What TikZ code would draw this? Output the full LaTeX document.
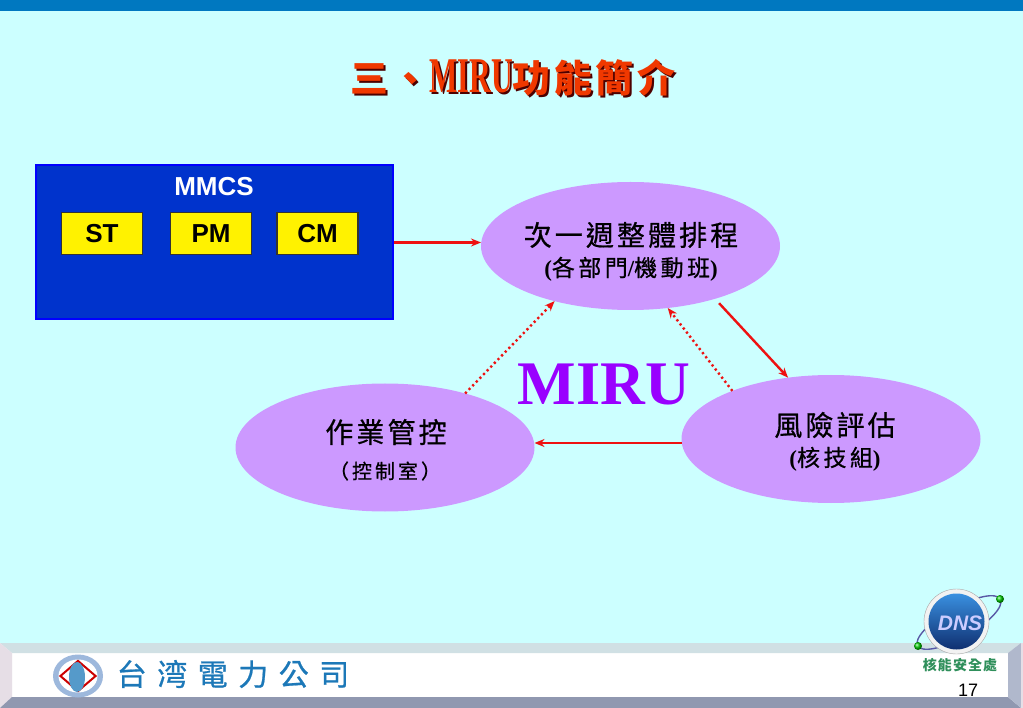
\documentclass[tikz,border=0pt]{standalone}
\usepackage{fontspec}
\usepackage{graphicx}
\setmainfont{Liberation Serif}
\setsansfont{Liberation Sans}
\newfontfamily\cjkfont{Noto Sans CJK TC}
\usetikzlibrary{shapes,arrows,arrows.meta,positioning,calc,fit}

\definecolor{bgcyan}{HTML}{CCFFFF}
\definecolor{topband}{HTML}{0078C0}
\definecolor{panelblue}{HTML}{0033CC}
\definecolor{lilac}{HTML}{CC99FF}
\definecolor{miru}{HTML}{9900FF}
\definecolor{titlered}{HTML}{F03800}
\definecolor{logoblue}{HTML}{1C78B8}
\definecolor{dnsgreen}{HTML}{2F8F5B}
\definecolor{bevelt}{HTML}{D0E0E4}
\definecolor{bevell}{HTML}{E6DEE6}
\definecolor{bevelb}{HTML}{9098B0}
\definecolor{bevelr}{HTML}{B0B8CC}
\definecolor{arrowred}{HTML}{EE1111}
\definecolor{ringblue}{HTML}{9DB8DC}
\definecolor{spheretop}{HTML}{3A90E0}
\definecolor{spherelow}{HTML}{0F2F70}

\newcommand{\fsz}[1]{\fontsize{#1}{#1}\selectfont}
\newcommand{\spaced}[1]{\cjkfont\addfontfeature{LetterSpace=#1}}
\newcommand{\heavy}[1]{\cjkfont\addfontfeature{LetterSpace=#1,FakeBold=0.7}}
\newcommand{\titletext}{{\spaced{9}\bfseries\fsz{38}三、}{\rmfamily\bfseries\fsz{50}\scalebox{.6}[1]{MIRU}}{\spaced{9}\bfseries\fsz{38}功能簡介}}

\begin{document}
\begin{tikzpicture}[
    x=1pt, y=-1pt,
    panel/.style={rectangle, draw=blue, line width=2pt, fill=panelblue, inner sep=0pt, minimum width=357pt, minimum height=154pt},
    subbox/.style={rectangle, draw=black!80, line width=1.2pt, fill=yellow, inner sep=0pt, minimum width=81pt, minimum height=42pt, font=\sffamily\bfseries\fsz{26}},
    task/.style={ellipse, fill=lilac, inner sep=0pt, outer sep=0pt, minimum width=299pt, minimum height=128pt},
    mainline/.style={inner sep=0pt, font=\heavy{11}\fsz{28}},
    subline/.style={inner sep=0pt, font=\heavy{15}\fsz{23}},
    arrow/.style={-{Stealth[length=10pt,width=8pt]}, draw=arrowred, line width=2.4pt},
    dotarrow/.style={arrow, dash pattern=on 2.2pt off 3pt}
]

% Background and top band
\fill[bgcyan] (0,0) rectangle (1023,708);
\fill[topband] (0,0) rectangle (1023,11);

% Footer bevel
\fill[white] (0,643) rectangle (1023,708);
\fill[bevelt] (0,643) -- (1021,643) -- (1008,653) -- (12,653) -- cycle;
\fill[bevell] (0,643) -- (12,653) -- (12,697) -- (0,708) -- cycle;
\fill[bevelb] (0,708) -- (12,697) -- (1008,697) -- (1021,708) -- cycle;
\fill[bevelr] (1021,643) -- (1008,653) -- (1008,697) -- (1021,708) -- cycle;
\fill[bevell] (1021,643) rectangle (1023,708);

% Title
\node[inner sep=0pt, text=black!70!red] (title_shadow) at (514.5,80) {\titletext};
\node[inner sep=0pt, text=titlered] (title) at (512.5,78) {\titletext};

% MMCS panel
\node[panel] (mmcs) at (214,242.5) {};
\node[inner sep=0pt, text=white, font=\sffamily\bfseries\fsz{26}] (mmcs_label) at (214,187) {MMCS};
\node[subbox] (st) at (102,233.5) {ST};
\node[subbox] (pm) at (211,233.5) {PM};
\node[subbox] (cm) at (317.5,233.5) {CM};

% Ellipses
\node[task] (next_week) at (630.5,246) {};
\node[task] (control) at (385,447.5) {};
\node[task] (risk) at (831,439) {};
\coordinate (bottom_link) at (608,443);

% Ellipse texts
\node[mainline] (next_week_a) at (631,235) {次一週整體排程};
\node[subline] (next_week_b) at (631,269) {{\rmfamily\bfseries(}各部門{\rmfamily\bfseries/}機動班{\rmfamily\bfseries)}};
\node[mainline] (control_a) at (386,432) {作業管控};
\node[subline, font=\heavy{15}\fsz{20}] (control_b) at (385,471) {（控制室）};
\node[mainline] (risk_a) at (835,425) {風險評估};
\node[subline] (risk_b) at (835,459) {{\rmfamily\bfseries(}核技組{\rmfamily\bfseries)}};

% Center label
\node[inner sep=0pt, text=miru, font=\rmfamily\bfseries\fsz{62}] (miru_label) at (604,384) {MIRU};

% Arrows
\draw[arrow] (mmcs.east) -- (mmcs.east -| next_week.west);
\draw[arrow, shorten <=6pt] (next_week.-32) -- (risk.125.5);
\draw[arrow] (risk.west |- bottom_link) -- (control.east |- bottom_link);
\draw[dotarrow] (risk.154) -- (next_week.-59);
\draw[dotarrow] (control.34.4) -- (next_week.216.7);

% Company logo
\node[ellipse, fill=ringblue, minimum width=50pt, minimum height=43pt, inner sep=0pt] (logo_ring) at (78,676) {};
\node[ellipse, fill=white, minimum width=39pt, minimum height=33pt, inner sep=0pt] (logo_inner) at (78,676) {};
\node[diamond, draw=red!80!black, line width=2pt, minimum width=36pt, minimum height=31pt, inner sep=0pt] (logo_diamond) at (78,676) {};
\node[ellipse, fill=logoblue!75, minimum width=16pt, minimum height=30pt, inner sep=0pt] (logo_globe) at (77,677) {};
\node[inner sep=0pt, text=logoblue, font=\heavy{35}\fsz{30}] (company) at (233,674) {台湾電力公司};

% DNS badge
\node[ellipse, draw=gray!70!blue, line width=1.4pt, rotate=29.5, minimum width=95pt, minimum height=30pt, inner sep=0pt] (orbit) at (959,622.5) {};
\node[circle, fill=white!90!gray, draw=gray!70, minimum size=65pt, inner sep=0pt] (badge_ring) at (956.5,621.5) {};
\node[circle, top color=spheretop, bottom color=spherelow, minimum size=56pt, inner sep=0pt] (badge) at (956.5,621.5) {};
\node[inner sep=0pt, text=white!80!blue, font=\sffamily\bfseries\itshape\fsz{21}] (badge_text) at (960,623) {DNS};
\node[circle, ball color=green!80!black, minimum size=8pt, inner sep=0pt] (ball_a) at (918,646) {};
\node[circle, ball color=green!80!black, minimum size=8pt, inner sep=0pt] (ball_b) at (1000,599) {};
\node[inner sep=0pt, text=dnsgreen, font=\spaced{8}\bfseries\fsz{14}] (dept) at (960,665) {核能安全處};
\node[inner sep=0pt, font=\sffamily\fsz{18}] (page_no) at (968,690) {17};

\end{tikzpicture}
\end{document}
